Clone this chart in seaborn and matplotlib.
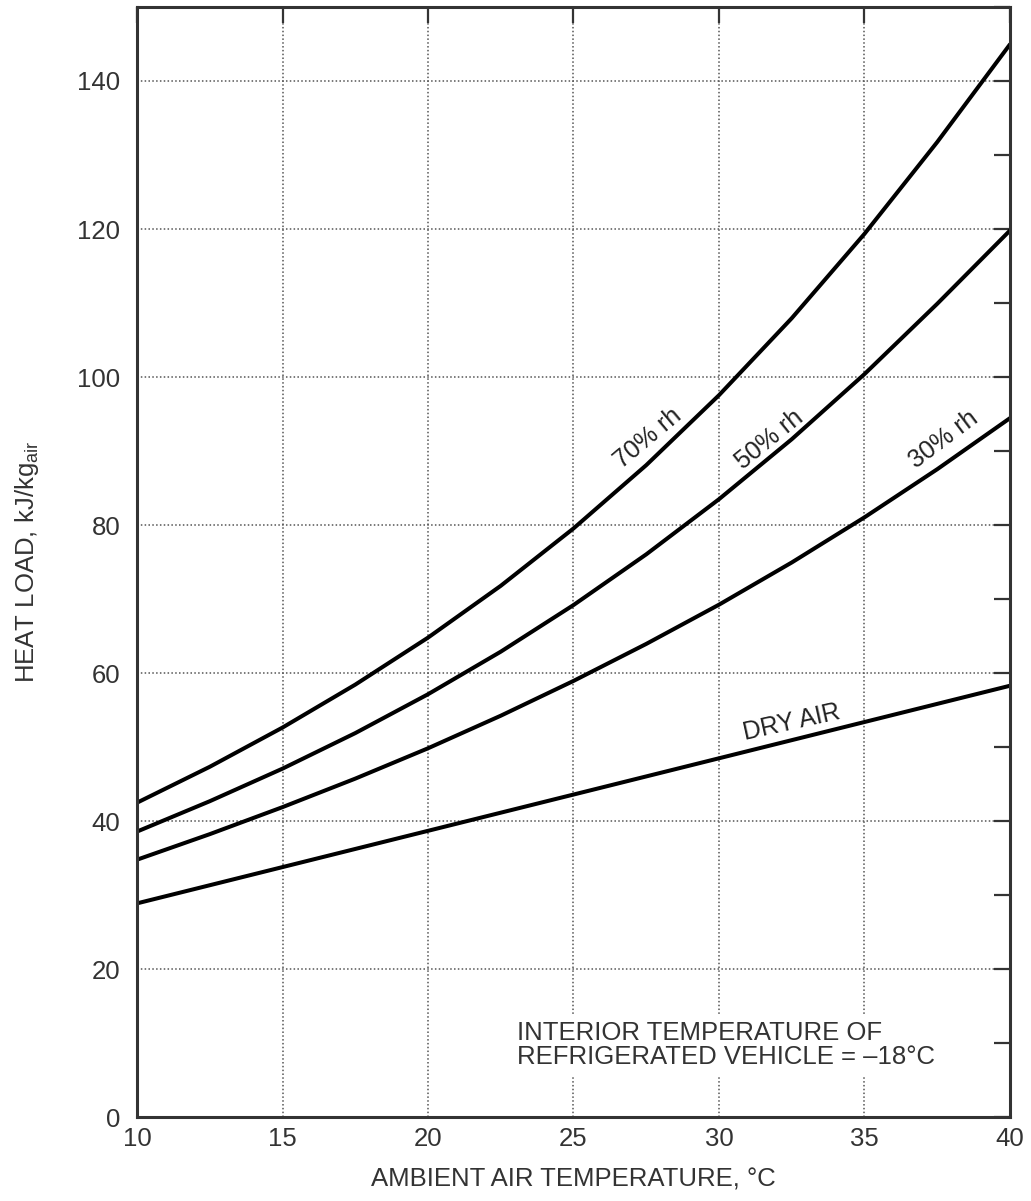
import matplotlib as mpl
mpl.use("Agg")
import matplotlib.pyplot as plt
from matplotlib.ticker import MultipleLocator
import seaborn as sns
import pandas as pd

# values
temps = [10, 12.5, 15, 17.5, 20, 22.5, 25, 27.5, 30, 32.5, 35, 37.5, 40]
dry_air = [28.9, 31.35, 33.8, 36.25, 38.7, 41.15, 43.6, 46.05, 48.5, 50.95, 53.4, 55.85, 58.3]
rh30 = [34.8, 38.25, 41.9, 45.75, 49.85, 54.25, 58.95, 63.95, 69.25, 74.95, 81.05, 87.55, 94.45]
rh50 = [38.6, 42.7, 47.1, 51.9, 57.15, 62.9, 69.2, 76.05, 83.5, 91.6, 100.4, 109.9, 119.8]
rh70 = [42.5, 47.35, 52.65, 58.45, 64.8, 71.8, 79.55, 88.1, 97.55, 107.95, 119.35, 131.75, 144.95]
series_names = ["DRY AIR", "30% rh", "50% rh", "70% rh"]

df = pd.DataFrame({
    "temp": temps * 4,
    "load": dry_air + rh30 + rh50 + rh70,
    "curve": [n for n in series_names for _ in temps],
})

sns.set_style("white")
plt.rcParams['font.family'] = ['Liberation Sans', 'DejaVu Sans']
plt.rcParams['mathtext.default'] = 'regular'

text_col = "#333333"
fig = plt.figure(figsize=(10.31, 12.01), dpi=100)
ax = fig.add_axes([0.1329, 0.0697, 0.8467, 0.9245])

sns.lineplot(data=df, x="temp", y="load", hue="curve",
             palette=["black"] * 4, linewidth=2.9, legend=False, ax=ax)
for ln in ax.get_lines():
    ln.set_solid_joinstyle("round")

ax.set_xlim(10, 40)
ax.set_ylim(0, 150)
ax.xaxis.set_major_locator(MultipleLocator(5))
ax.yaxis.set_major_locator(MultipleLocator(20))
ax.yaxis.set_minor_locator(MultipleLocator(10))
ax.grid(True, which="major", linestyle=(0, (1, 1.5)), color="#555555", linewidth=1.1)
ax.tick_params(which="both", direction="in", length=11.5, width=1.6,
               top=True, right=True, colors=text_col, labelsize=18.5)
ax.tick_params(axis="y", pad=12)
ax.tick_params(axis="x", pad=7)
for s in ax.spines.values():
    s.set_linewidth(2.2)
    s.set_color(text_col)

ax.set_xlabel("AMBIENT AIR TEMPERATURE, °C", fontsize=18.5, color=text_col, labelpad=12)
ax.set_ylabel("HEAT LOAD, kJ/kg$_{air}$", fontsize=18.5, color=text_col, labelpad=26)

# curve labels
lbl = dict(fontsize=18, color="#222222", ha="center", va="center")
ax.text(27.57, 91.8, "70% rh", rotation=40, **lbl)
ax.text(31.75, 91.6, "50% rh", rotation=39, **lbl)
ax.text(37.71, 91.6, "30% rh", rotation=37, **lbl)
ax.text(32.5, 53.4, "DRY AIR", rotation=12.5, **lbl)

ax.text(23.06, 9.7, "INTERIOR TEMPERATURE OF\nREFRIGERATED VEHICLE = \u201318°C",
        fontsize=18.5, color=text_col, ha="left", va="center", linespacing=1.0,
        bbox=dict(facecolor="white", edgecolor="none", pad=4))

fig.savefig("out.png", dpi=100)
